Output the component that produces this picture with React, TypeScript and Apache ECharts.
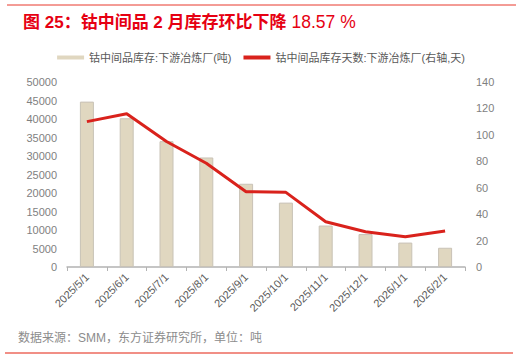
import React, { useEffect, useRef } from "react";
import * as echarts from "echarts";

const categories = [
  "2025/5/1", "2025/6/1", "2025/7/1", "2025/8/1", "2025/9/1",
  "2025/10/1", "2025/11/1", "2025/12/1", "2026/1/1", "2026/2/1",
];
const inventoryTons = [44700, 40200, 34000, 29600, 22500, 17400, 11200, 8900, 6600, 5200];
const inventoryDays = [110, 116, 95, 78.5, 57, 56.5, 34.3, 26.7, 22.9, 27.2];

const barName = "钴中间品库存:下游冶炼厂(吨)";
const lineName = "钴中间品库存天数:下游冶炼厂(右轴,天)";

const FONT = "'Liberation Sans', 'Noto Sans CJK SC', sans-serif";

export default function App() {
  const ref = useRef<HTMLDivElement>(null);
  useEffect(() => {
    if (!ref.current) return;
    const chart = echarts.init(ref.current, undefined, { renderer: "svg" });
    chart.setOption({
      animation: false,
      backgroundColor: "#ffffff",
      textStyle: { fontFamily: FONT },
      title: {
        left: 18,
        top: 8,
        text: "{b|图 25：钴中间品 2 月库存环比下降} {n|18.57 %}",
        textStyle: {
          rich: {
            b: { fontSize: 17, fontWeight: "bold", color: "#e60012", fontFamily: FONT },
            n: { fontSize: 17.5, fontWeight: "normal", color: "#e60012", fontFamily: FONT },
          },
        },
      },
      graphic: [
        { type: "line", shape: { x1: 7, y1: 5, x2: 516, y2: 5 }, style: { stroke: "#e8392c", lineWidth: 1 } },
        { type: "line", shape: { x1: 5, y1: 353, x2: 513, y2: 353 }, style: { stroke: "#ec6a5e", lineWidth: 1.5 } },
        {
          type: "text",
          left: 18,
          top: 332,
          style: { text: "数据来源：SMM，东方证券研究所，单位：吨", fontSize: 12, fill: "#8c8c8c", fontFamily: FONT },
        },
      ],
      legend: {
        top: 47,
        left: "center",
        itemGap: 12,
        textStyle: { fontSize: 11, color: "#595959", fontFamily: FONT },
        data: [
          { name: barName, icon: "rect", itemStyle: { color: "#e0d7c0", borderWidth: 0 } },
          { name: lineName, icon: "rect", itemStyle: { color: "#d9221c" } },
        ],
        itemWidth: 27,
        itemHeight: 4,
      },
      grid: { left: 67, right: 57, top: 82, bottom: 93 },
      xAxis: {
        type: "category",
        data: categories,
        axisLine: { lineStyle: { color: "#b3b3b3", width: 1.5 } },
        axisTick: { show: true, length: 4, lineStyle: { color: "#b3b3b3" } },
        axisLabel: { rotate: 45, fontSize: 11, color: "#595959", margin: 8, fontFamily: FONT },
      },
      yAxis: [
        {
          type: "value",
          min: 0,
          max: 50000,
          interval: 5000,
          splitLine: { show: false },
          axisLine: { show: false },
          axisTick: { show: false },
          axisLabel: { fontSize: 11, color: "#7f7f7f", margin: 10, fontFamily: FONT, formatter: (v: number) => String(v) },
        },
        {
          type: "value",
          min: 0,
          max: 140,
          interval: 20,
          splitLine: { show: false },
          axisLine: { show: false },
          axisTick: { show: false },
          axisLabel: { fontSize: 11, color: "#7f7f7f", margin: 11, fontFamily: FONT, formatter: (v: number) => String(v) },
        },
      ],
      series: [
        {
          name: barName,
          type: "bar",
          data: inventoryTons,
          barWidth: 14,
          itemStyle: { color: "#e0d7c0", borderColor: "#c8c2b6", borderWidth: 1 },
        },
        {
          name: lineName,
          type: "line",
          yAxisIndex: 1,
          data: inventoryDays,
          symbol: "none",
          lineStyle: { color: "#d9221c", width: 3 },
          itemStyle: { color: "#d9221c" },
        },
      ],
    });
    return () => chart.dispose();
  }, []);
  return <div ref={ref} style={{ position: "fixed", left: 0, top: 0, width: 522, height: 360 }} />;
}
